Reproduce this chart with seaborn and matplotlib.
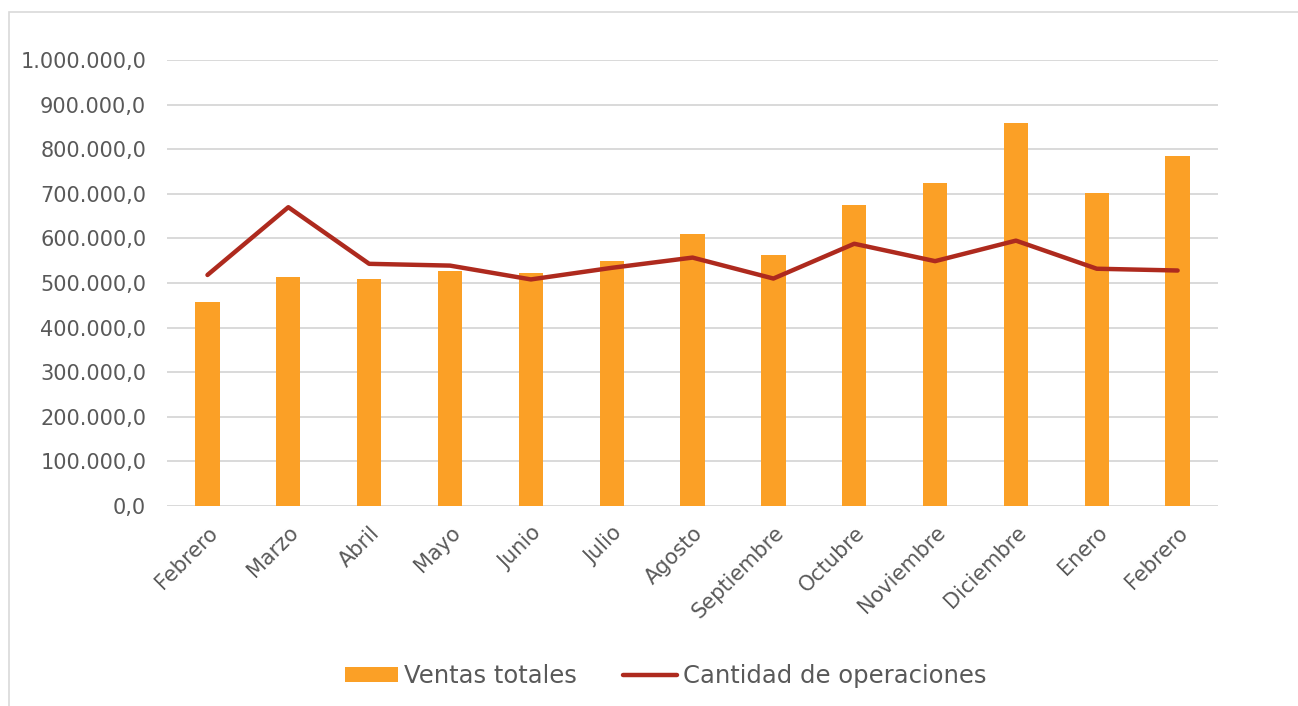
import matplotlib
matplotlib.use("Agg")
import matplotlib.pyplot as plt
import matplotlib.ticker as mticker
from matplotlib.patches import Rectangle, Patch
from matplotlib.lines import Line2D
import seaborn as sns
import pandas as pd

months = ["Febrero", "Marzo", "Abril", "Mayo", "Junio", "Julio", "Agosto",
          "Septiembre", "Octubre", "Noviembre", "Diciembre", "Enero", "Febrero"]
ventas = [457000, 514000, 508000, 528000, 523000, 550000, 609000,
          562000, 674000, 725000, 858000, 702000, 784000]
operaciones = [518000, 670000, 543000, 539000, 508000, 534000, 557000,
               510000, 588000, 549000, 595000, 532000, 528000]

BAR_COLOR = "#FBA026"
LINE_COLOR = "#AE2A1E"
TEXT_COLOR = "#595959"


def fmt_es(v, pos):
    s = f"{v:,.1f}"
    return s.replace(",", "X").replace(".", ",").replace("X", ".")


def main():
    df = pd.DataFrame({"pos": range(len(months)), "ventas": ventas, "ops": operaciones})

    sns.set_style("white")
    plt.rcParams["font.family"] = ["DejaVu Sans"]

    fig = plt.figure(figsize=(12.98, 7.06), dpi=100)
    ax = fig.add_axes([0.1287, 0.2833, 0.8097, 0.6317])

    sns.barplot(data=df, x="pos", y="ventas", color=BAR_COLOR, width=0.3,
                saturation=1, linewidth=0, ax=ax, zorder=2)
    sns.lineplot(data=df, x="pos", y="ops", color=LINE_COLOR, linewidth=3.2,
                 ax=ax, zorder=3, solid_capstyle="round", solid_joinstyle="round")

    ax.set_xlim(-0.5, len(months) - 0.5)
    ax.set_ylim(0, 1000000)
    ax.yaxis.set_major_locator(mticker.MultipleLocator(100000))
    ax.yaxis.set_major_formatter(mticker.FuncFormatter(fmt_es))
    ax.grid(axis="y", color="#D9D9D9", linewidth=1.4, zorder=0)
    ax.set_axisbelow(True)
    for s in ax.spines.values():
        s.set_visible(False)

    ax.set_xticks(range(len(months)))
    ax.set_xticklabels(months, rotation=45, ha="right", rotation_mode="anchor")
    ax.tick_params(axis="both", length=0, labelsize=15, colors=TEXT_COLOR)
    ax.tick_params(axis="y", pad=15)
    ax.tick_params(axis="x", pad=12)
    ax.set_xlabel("")
    ax.set_ylabel("")

    handles = [Patch(facecolor=BAR_COLOR, edgecolor="none"),
               Line2D([0], [0], color=LINE_COLOR, linewidth=3.2, solid_capstyle="round")]
    fig.legend(handles, ["Ventas totales", "Cantidad de operaciones"],
               loc="center", bbox_to_anchor=(0.5127, 0.042), ncol=2, frameon=False,
               fontsize=17.5, labelcolor=TEXT_COLOR, handlelength=2.2, handleheight=0.6,
               handletextpad=0.25, columnspacing=1.9)

    fig.patches.append(Rectangle((9 / 1298, -0.01), 1.0, (706 - 12) / 706 + 0.01,
                                 transform=fig.transFigure, fill=False,
                                 edgecolor="#D9D9D9", linewidth=1.2))

    plt.savefig("out.png", dpi=100)


if __name__ == "__main__":
    main()
